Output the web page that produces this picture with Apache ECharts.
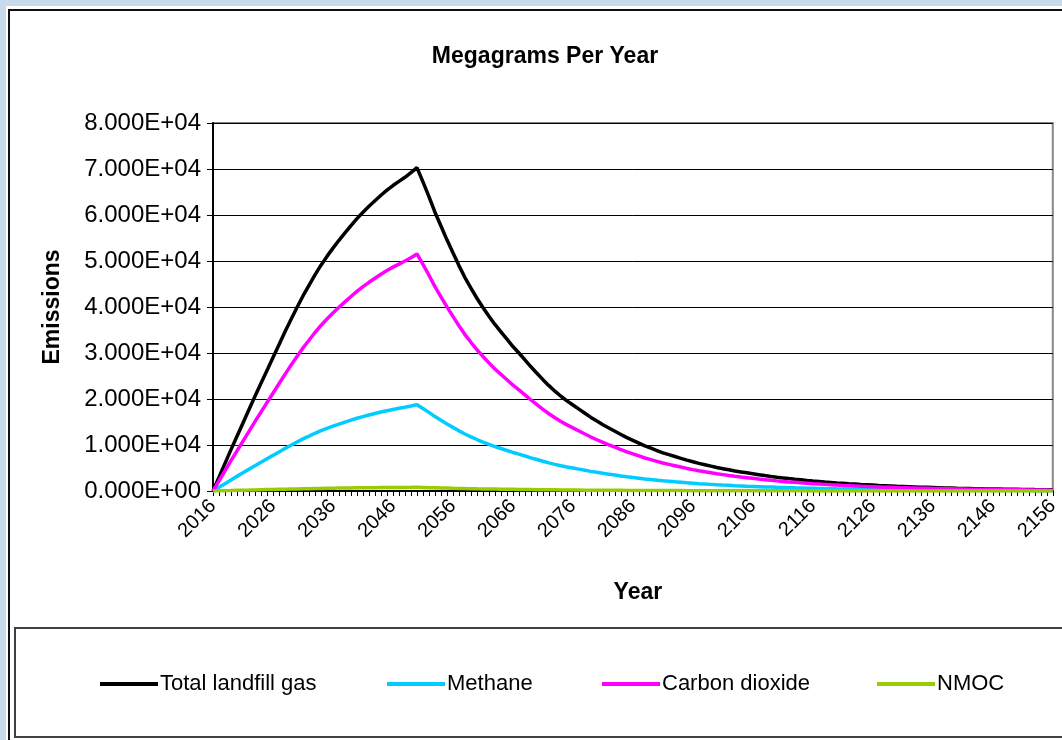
<!DOCTYPE html>
<html>
<head>
<meta charset="utf-8">
<script src="https://cdn.jsdelivr.net/npm/echarts@6/dist/echarts.min.js"></script>
<style>
  html, body { margin: 0; padding: 0; width: 1062px; height: 740px; overflow: hidden; background: #ffffff; }
  #blue { position: absolute; left: 0; top: 0; width: 1062px; height: 740px; background: #C8DBED; }
  #white { position: absolute; left: 6px; top: 6px; width: 1056px; height: 734px; background: #ffffff; }
  #frame { position: absolute; left: 8px; top: 9px; width: 1060px; height: 740px; border-left: 2px solid #111; border-top: 2px solid #111; }
  #chart { position: absolute; left: 0; top: 0; width: 1062px; height: 740px; }
</style>
</head>
<body>
<div id="blue"></div>
<div id="white"></div>
<div id="frame"></div>
<div id="chart"></div>
<script>
const years = [
  2016,2017,2018,2019,2020,2021,2022,2023,2024,2025,2026,2027,2028,2029,2030,2031,2032,2033,2034,2035,
  2036,2037,2038,2039,2040,2041,2042,2043,2044,2045,2046,2047,2048,2049,2050,2051,2052,2053,2054,2055,
  2056,2057,2058,2059,2060,2061,2062,2063,2064,2065,2066,2067,2068,2069,2070,2071,2072,2073,2074,2075,
  2076,2077,2078,2079,2080,2081,2082,2083,2084,2085,2086,2087,2088,2089,2090,2091,2092,2093,2094,2095,
  2096,2097,2098,2099,2100,2101,2102,2103,2104,2105,2106,2107,2108,2109,2110,2111,2112,2113,2114,2115,
  2116,2117,2118,2119,2120,2121,2122,2123,2124,2125,2126,2127,2128,2129,2130,2131,2132,2133,2134,2135,
  2136,2137,2138,2139,2140,2141,2142,2143,2144,2145,2146,2147,2148,2149,2150,2151,2152,2153,2154,2155,
  2156
];

const totalLandfillGas = [
  0,3000,6000,9000,11900,14800,17700,20600,23400,26200,
  29000,31800,34600,37300,39900,42400,44700,47000,49100,51000,
  52800,54500,56100,57700,59200,60600,61900,63100,64300,65400,
  66400,67300,68200,69200,70300,67200,64000,60600,57600,54600,
  51800,49000,46400,44100,41900,39900,38000,36200,34600,33000,
  31400,30000,28500,27000,25600,24200,22900,21700,20600,19600,
  18700,17800,16900,16000,15200,14400,13700,13000,12300,11600,
  11000,10400,9800,9300,8800,8300,7900,7500,7100,6700,
  6350,6000,5700,5400,5100,4850,4600,4350,4150,3950,
  3750,3550,3350,3170,3000,2850,2700,2560,2430,2300,
  2180,2070,1960,1860,1760,1670,1580,1500,1420,1350,
  1280,1210,1150,1090,1030,980,930,880,830,790,
  750,710,670,640,600,570,540,510,490,460,
  440,420,400,380,360,340,320,300,290,270,
  260
];

const methane = [
  0,800,1600,2400,3180,3950,4730,5500,6250,7000,
  7740,8490,9240,9960,10650,11320,11930,12550,13110,13620,
  14100,14550,14980,15410,15810,16180,16530,16850,17170,17460,
  17730,17970,18210,18480,18770,17940,17090,16180,15380,14580,
  13830,13080,12390,11770,11190,10650,10150,9670,9240,8810,
  8380,8010,7610,7210,6840,6460,6110,5790,5500,5230,
  4990,4750,4510,4270,4060,3840,3660,3470,3280,3100,
  2940,2780,2620,2480,2350,2220,2110,2000,1900,1790,
  1700,1600,1520,1440,1360,1290,1230,1160,1110,1050,
  1000,950,890,850,800,760,720,680,650,610,
  580,550,520,500,470,450,420,400,380,360,
  340,320,310,290,280,260,250,230,220,210,
  200,190,180,170,160,150,140,140,130,120,
  120,110,110,100,100,90,90,80,80,70,
  70
];

const carbonDioxide = [
  0,2200,4400,6600,8720,10850,12970,15100,17150,19200,
  21260,23310,25360,27340,29250,31080,32770,34450,35990,37380,
  38700,39950,41120,42290,43390,44420,45370,46250,47130,47940,
  48670,49330,49990,50720,51530,49260,46910,44420,42220,40020,
  37970,35920,34010,32330,30710,29250,27850,26530,25360,24190,
  23020,21990,20890,19790,18760,17740,16790,15910,15100,14370,
  13710,13050,12390,11730,11140,10560,10040,9530,9020,8500,
  8060,7620,7180,6820,6450,6080,5790,5500,5200,4910,
  4650,4400,4180,3960,3740,3560,3370,3190,3040,2900,
  2750,2600,2460,2320,2200,2090,1980,1880,1780,1690,
  1600,1520,1440,1360,1290,1220,1160,1100,1040,990,
  940,890,840,800,750,720,680,650,610,580,
  550,520,490,470,440,420,400,370,360,340,
  320,310,290,280,260,250,230,220,210,200,
  190
];

const nmoc = [
  0,30,70,100,140,170,200,240,270,300,
  330,370,400,430,460,490,510,540,560,590,
  610,630,640,660,680,700,710,720,740,750,
  760,770,780,790,810,770,730,700,660,630,
  590,560,530,510,480,460,440,420,400,380,
  360,340,330,310,290,280,260,250,240,220,
  210,200,190,180,170,165,160,150,140,130,
  126,120,113,107,101,95,91,86,82,77,
  73,69,65,62,58,55,53,50,48,45,
  43,41,38,37,34,33,31,29,28,26,
  25,24,22,21,20,19,18,17,16,15,
  15,14,13,12,12,11,11,10,9,9,
  9,8,8,7,7,6,6,6,6,5,
  5,5,5,4,4,4,4,3,3,3,
  3
];

const seriesNames = ['Total landfill gas', 'Methane', 'Carbon dioxide', 'NMOC'];
const seriesColors = ['#000000', '#00CCFF', '#FF00FF', '#99CC00'];

const FONT = "'Liberation Sans', Arial, sans-serif";

function sci(v) {
  const parts = v.toExponential(3).split('e');
  let exp = parseInt(parts[1], 10);
  const sign = exp < 0 ? '-' : '+';
  exp = Math.abs(exp);
  return parts[0] + 'E' + sign + (exp < 10 ? '0' + exp : '' + exp);
}

const chart = echarts.init(document.getElementById('chart'), null, { renderer: 'canvas' });

const legendLefts = [100, 387, 602, 877];
const legends = seriesNames.map((n, i) => ({
  data: [n],
  left: legendLefts[i],
  top: 673,
  padding: 0,
  icon: 'rect',
  itemWidth: 58,
  itemHeight: 4,
  itemGap: 0,
  selectedMode: false,
  textStyle: { fontFamily: FONT, fontSize: 22, color: '#000', padding: [0, 0, 0, -3] }
}));

const dataSets = [totalLandfillGas, methane, carbonDioxide, nmoc];

chart.setOption({
  animation: false,
  title: {
    text: 'Megagrams Per Year',
    left: 540,
    top: 40,
    textAlign: 'center',
    textStyle: { fontFamily: FONT, fontSize: 23, fontWeight: 'bold', color: '#000' }
  },
  legend: legends,
  graphic: [{
    type: 'rect',
    shape: { x: 15, y: 628, width: 1100, height: 109 },
    style: { fill: 'none', stroke: '#404040', lineWidth: 2 },
    silent: true
  }],
  grid: {
    left: 213, right: 4, top: 123, bottom: 249,
    show: true, borderColor: '#888888', borderWidth: 2, backgroundColor: 'transparent'
  },
  xAxis: {
    type: 'category',
    data: years,
    boundaryGap: false,
    name: 'Year',
    nameLocation: 'middle',
    nameGap: 90,
    nameTextStyle: { fontFamily: FONT, fontSize: 23, fontWeight: 'bold', color: '#000', padding: [0, 0, 0, 10] },
    axisLine: { lineStyle: { color: '#000', width: 2 } },
    axisTick: { show: true, interval: 0, length: 5, lineStyle: { color: '#000', width: 1 } },
    axisLabel: { interval: 9, rotate: 45, margin: 12, fontFamily: FONT, fontSize: 20, color: '#000' },
    splitLine: { show: false }
  },
  yAxis: {
    type: 'value',
    min: 0, max: 80000, interval: 10000,
    name: 'Emissions',
    nameLocation: 'middle',
    nameGap: 149,
    nameRotate: 90,
    nameTextStyle: { fontFamily: FONT, fontSize: 23, fontWeight: 'bold', color: '#000' },
    axisLine: { show: true, lineStyle: { color: '#000', width: 2 } },
    axisTick: { show: true, length: 6, lineStyle: { color: '#000', width: 1 } },
    axisLabel: { formatter: v => sci(v), margin: 12, fontFamily: FONT, fontSize: 24, color: '#000' },
    splitLine: { show: true, lineStyle: { color: '#000', width: 1 } }
  },
  series: seriesNames.map((n, i) => ({
    name: n,
    type: 'line',
    data: dataSets[i],
    symbol: 'none',
    showSymbol: false,
    lineStyle: { color: seriesColors[i], width: 3.5 },
    itemStyle: { color: seriesColors[i] },
    z: 2 + i
  }))
});
</script>
</body>
</html>
